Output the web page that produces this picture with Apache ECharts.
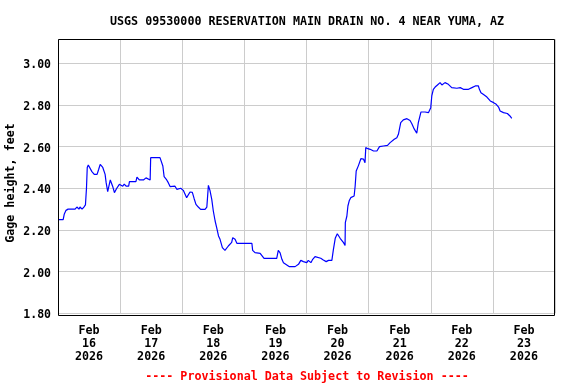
<!DOCTYPE html>
<html>
<head>
<meta charset="utf-8">
<script src="https://cdn.jsdelivr.net/npm/echarts@6/dist/echarts.min.js"></script>
<style>html,body{margin:0;padding:0;background:#fff}#c{width:576px;height:384px}</style>
</head>
<body>
<div id="c"></div>
<script>
const titleText = 'USGS 09530000 RESERVATION MAIN DRAIN NO. 4 NEAR YUMA, AZ';
const yAxisName = 'Gage height, feet';
const footerText = '---- Provisional Data Subject to Revision ----';
const monthLabel = 'Feb';
const yearLabel = '2026';
const dayLabels = ['16', '17', '18', '19', '20', '21', '22', '23'];
const yTicks = [1.8, 2.0, 2.2, 2.4, 2.6, 2.8, 3.0];
// hours since Feb 16 00:00
const hours = [0.3,2.0,2.4,3.1,3.9,6.6,7.3,8.1,8.5,9.3,10.0,10.6,11.0,11.3,11.7,12.4,13.1,14.0,15.1,15.7,16.3,17.3,18.2,18.6,19.2,20.2,21.1,21.8,22.7,23.7,25.0,25.6,26.3,27.3,27.6,30.1,30.5,31.4,33.0,34.0,35.6,35.8,39.4,40.5,41.0,42.0,42.6,43.3,45.2,45.9,47.4,48.4,49.7,50.4,51.0,51.9,52.6,53.3,54.2,55.1,56.8,57.5,58.1,58.7,59.4,60.0,60.7,61.3,62.0,62.6,63.5,64.5,65.8,67.1,67.5,68.4,69.1,74.9,75.2,76.1,78.1,78.7,79.6,81.9,82.6,83.0,84.5,85.1,85.8,86.5,87.1,87.8,89.4,91.6,92.3,92.9,93.8,94.8,96.1,96.7,97.7,98.4,99.3,100.0,101.5,102.5,103.6,104.5,105.8,106.4,107.1,107.9,109.0,109.6,110.3,110.9,111.0,111.6,112.0,112.5,113.1,114.4,114.8,115.2,116.1,117.0,118.0,118.6,118.9,119.7,120.6,121.9,123.2,124.2,125.7,127.3,128.3,129.9,130.9,131.5,132.4,133.4,134.8,136.0,136.7,137.6,138.6,139.2,140.2,141.8,143.1,143.8,144.0,144.4,145.0,145.7,146.6,147.6,147.9,148.3,149.5,150.8,151.5,152.1,154.1,155.4,156.6,158.6,159.9,161.2,162.4,162.8,163.4,164.4,165.7,167.0,168.3,169.3,170.2,170.8,172.1,173.6,174.6,175.3];
const gage = [2.25,2.25,2.275,2.294,2.30,2.30,2.31,2.30,2.31,2.30,2.31,2.32,2.40,2.50,2.512,2.51,2.48,2.467,2.467,2.49,2.515,2.50,2.467,2.427,2.384,2.44,2.41,2.379,2.40,2.419,2.41,2.42,2.41,2.41,2.432,2.432,2.454,2.44,2.44,2.45,2.44,2.547,2.547,2.507,2.456,2.44,2.427,2.408,2.41,2.395,2.40,2.39,2.355,2.355,2.382,2.38,2.35,2.323,2.31,2.299,2.299,2.31,2.414,2.39,2.347,2.291,2.243,2.211,2.171,2.155,2.115,2.102,2.123,2.14,2.163,2.155,2.136,2.136,2.102,2.091,2.088,2.08,2.064,2.064,2.072,2.064,2.064,2.102,2.09,2.059,2.043,2.048,2.024,2.024,2.016,2.035,2.054,2.048,2.043,2.054,2.043,2.059,2.072,2.072,2.064,2.056,2.048,2.054,2.054,2.107,2.16,2.182,2.16,2.155,2.139,2.126,2.235,2.267,2.315,2.34,2.355,2.363,2.411,2.483,2.51,2.542,2.54,2.523,2.595,2.59,2.587,2.579,2.579,2.60,2.603,2.606,2.619,2.635,2.643,2.659,2.715,2.728,2.734,2.725,2.71,2.685,2.664,2.715,2.766,2.766,2.763,2.77,2.787,2.843,2.875,2.886,2.896,2.907,2.915,2.896,2.907,2.899,2.907,2.883,2.88,2.883,2.875,2.875,2.883,2.891,2.891,2.875,2.859,2.85,2.838,2.819,2.811,2.803,2.79,2.771,2.763,2.759,2.747,2.736];

const FONT = '"DejaVu Sans Mono", "Liberation Mono", monospace';
const chart = echarts.init(document.getElementById('c'), null, {renderer: 'canvas'});
const data = hours.map((h, i) => [h, gage[i]]);

chart.setOption({
  animation: false,
  backgroundColor: '#fff',
  title: [{
    text: titleText, left: 302, top: 11, textAlign: 'center',
    textStyle: {fontFamily: FONT, fontSize: 11.7, fontWeight: 'bold', color: '#000'}
  }, {
    text: footerText, left: 302, top: 366, textAlign: 'center',
    textStyle: {fontFamily: FONT, fontSize: 11.7, fontWeight: 'bold', color: '#ff0000'}
  }],
  grid: {left: 58, right: 21, top: 39.3, bottom: 70.7, containLabel: false},
  xAxis: [{
    type: 'value', min: 0, max: 192, interval: 24,
    axisLine: {show: false}, axisTick: {show: false}, axisLabel: {show: false},
    splitLine: {show: true, lineStyle: {color: '#cccccc', width: 1}}
  }, {
    type: 'value', min: 0, max: 192, interval: 12, position: 'bottom',
    axisLine: {show: false}, axisTick: {show: false}, splitLine: {show: false},
    axisLabel: {
      show: true, margin: 11, lineHeight: 13,
      fontFamily: FONT, fontSize: 11.7, fontWeight: 'bold', color: '#000',
      showMinLabel: false, showMaxLabel: false,
      formatter: function (v) {
        if (v % 24 !== 12) return '';
        const d = dayLabels[Math.floor(v / 24)];
        return monthLabel + '\n' + d + '\n' + yearLabel;
      }
    }
  }],
  yAxis: {
    type: 'value', min: 1.8, max: 3.115, interval: 0.2,
    axisLine: {show: false}, axisTick: {show: false},
    axisLabel: {
      margin: 7, verticalAlign: 'top', lineHeight: 4,
      fontFamily: FONT, fontSize: 11.5, fontWeight: 'bold', color: '#000',
      showMaxLabel: false,
      formatter: v => (yTicks.some(t => Math.abs(t - v) < 1e-6) ? v.toFixed(2) : '')
    },
    splitLine: {show: true, lineStyle: {color: '#cccccc', width: 1}}
  },
  graphic: [{
    type: 'rect', silent: true, z: 100,
    shape: {x: 58.5, y: 39.5, width: 496, height: 276},
    style: {fill: 'none', stroke: '#000', lineWidth: 1}
  }, {
    type: 'text', silent: true, x: 11, y: 183, rotation: Math.PI / 2,
    style: {text: yAxisName, font: 'bold 11.7px ' + FONT, fill: '#000', textAlign: 'center', textVerticalAlign: 'middle'}
  }],
  series: [{
    type: 'line', xAxisIndex: 0, data: data, showSymbol: false, symbol: 'none',
    lineStyle: {color: '#0000ff', width: 1.2}, itemStyle: {color: '#0000ff'}
  }]
});
</script>
</body>
</html>
